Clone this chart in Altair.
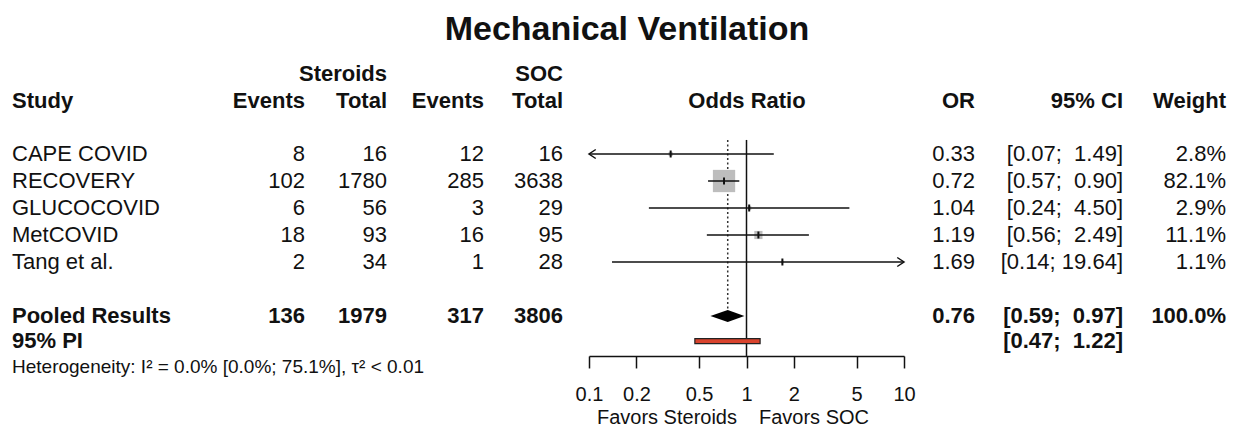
import altair as alt
import pandas as pd

FONT = "Liberation Sans"

# ---------------- data ----------------
studies = ["CAPE COVID", "RECOVERY", "GLUCOCOVID", "MetCOVID", "Tang et al."]
ster_events = [8, 102, 6, 18, 2]
ster_total = [16, 1780, 56, 93, 34]
soc_events = [12, 285, 3, 16, 1]
soc_total = [16, 3638, 29, 95, 28]
odds = [0.33, 0.72, 1.04, 1.19, 1.69]
ci_lo = [0.07, 0.57, 0.24, 0.56, 0.14]
ci_hi = [1.49, 0.90, 4.50, 2.49, 19.64]
weights = [2.8, 82.1, 2.9, 11.1, 1.1]

pooled_counts = [136, 1979, 317, 3806]
pooled_or = 0.76
pooled_lo = 0.59
pooled_hi = 0.97
pooled_weight = 100.0
pi_lo = 0.47
pi_hi = 1.22

ticks = [0.1, 0.2, 0.5, 1, 2, 5, 10]
x_min, x_max = 0.1, 10
title_text = "Mechanical Ventilation"
het_text = "Heterogeneity: I\u00b2 = 0.0% [0.0%; 75.1%], \u03c4\u00b2 < 0.01"
label_left = "Favors Steroids"
label_right = "Favors SOC"

# ---------------- layout ----------------
W, H = 1220, 421
ROW0 = 146.0   # chart px of first study row
STEP = 27.0
yscale = alt.Scale(domain=[-ROW0 / STEP, (H - ROW0) / STEP], reverse=True, nice=False, zero=False)
xscale = alt.Scale(type="log", domain=[x_min, x_max], range=[581, 896], nice=False)

study_rows = list(range(len(studies)))
R_POOL = 6.0
R_PI = 6.93
R_HET = 7.9
R_HEAD1 = -2.95
R_HEAD2 = -1.95
R_TITLE = -4.6
R_AXIS = 7.48
R_FAV = 9.78
R_TOP = -0.52
AXIS_Y = ROW0 + STEP * R_AXIS
FS = 22


def fmt_ci(lo, hi):
    hs = f"{hi:.2f}"
    pad = "\u00a0" * (1 + max(0, 5 - len(hs)))
    return f"[{lo:.2f};{pad}{hs}]"


def column(labels, rows, px, align="right", bold=False, size=FS):
    df = pd.DataFrame({"row": rows, "label": [str(v) for v in labels]})
    return alt.Chart(df).mark_text(
        align=align, baseline="middle", font=FONT, fontSize=size,
        fontWeight="bold" if bold else "normal", color="#111111"
    ).encode(
        x=alt.value(px - 8),
        y=alt.Y("row:Q", scale=yscale, axis=None),
        text="label:N",
    )


layers = []

# forest: reference lines
ref_df = pd.DataFrame({"v": [1.0], "y1": [R_TOP], "y2": [R_AXIS]})
dot_df = pd.DataFrame({"v": [pooled_or], "y1": [R_TOP], "y2": [R_POOL - 0.22]})

axis = alt.Axis(
    values=ticks, format="~g", orient="bottom", offset=AXIS_Y - H, grid=False,
    tickSize=12, tickWidth=1.5, tickColor="#111111", domainColor="#111111",
    domainWidth=1.5, labelFont=FONT, labelFontSize=20, labelColor="#111111",
    labelPadding=17, labelFlush=False, labelOverlap=False, title=None,
)

layers.append(
    alt.Chart(ref_df).mark_rule(color="#111111", strokeWidth=1.5).encode(
        x=alt.X("v:Q", scale=xscale, axis=axis),
        y=alt.Y("y1:Q", scale=yscale, axis=None), y2="y2:Q",
    )
)
layers.append(
    alt.Chart(dot_df).mark_rule(color="#333333", strokeWidth=1.5, strokeDash=[2, 2.5]).encode(
        x=alt.X("v:Q", scale=xscale), y=alt.Y("y1:Q", scale=yscale, axis=None), y2="y2:Q",
    )
)

# study estimates
st = pd.DataFrame({
    "row": study_rows, "or": odds, "lo": ci_lo, "hi": ci_hi, "w": weights,
})
st["lo_c"] = st["lo"].clip(lower=x_min)
st["hi_c"] = st["hi"].clip(upper=x_max)

layers.append(
    alt.Chart(st).mark_square(color="#bdbdbd", opacity=1).encode(
        x=alt.X("or:Q", scale=xscale), y=alt.Y("row:Q", scale=yscale, axis=None),
        size=alt.Size("w:Q", scale=alt.Scale(domain=[0, 100], range=[0, 605]), legend=None),
    )
)
layers.append(
    alt.Chart(st).mark_rule(color="#111111", strokeWidth=1.5).encode(
        x=alt.X("lo_c:Q", scale=xscale), x2="hi_c:Q", y=alt.Y("row:Q", scale=yscale, axis=None),
    )
)
layers.append(
    alt.Chart(st).mark_point(shape="M0,-1L0,1", size=49, strokeWidth=2, color="#111111", filled=False, opacity=1).encode(
        x=alt.X("or:Q", scale=xscale), y=alt.Y("row:Q", scale=yscale, axis=None),
    )
)
left_arrows = st[st["lo"] < x_min]
right_arrows = st[st["hi"] > x_max]
layers.append(
    alt.Chart(left_arrows).mark_point(shape="M1.5,-1L0,0L1.5,1", size=81, strokeWidth=1.5, color="#111111", filled=False, opacity=1).encode(
        x=alt.X("lo_c:Q", scale=xscale), y=alt.Y("row:Q", scale=yscale, axis=None),
    )
)
layers.append(
    alt.Chart(right_arrows).mark_point(shape="M-1.5,-1L0,0L-1.5,1", size=81, strokeWidth=1.5, color="#111111", filled=False, opacity=1).encode(
        x=alt.X("hi_c:Q", scale=xscale), y=alt.Y("row:Q", scale=yscale, axis=None),
    )
)

# pooled diamond
half = 0.22
dia = pd.DataFrame({
    "x": [pooled_lo, pooled_or, pooled_hi],
    "y1": [R_POOL, R_POOL - half, R_POOL],
    "y2": [R_POOL, R_POOL + half, R_POOL],
})
layers.append(
    alt.Chart(dia).mark_area(color="#000000", orient="vertical", opacity=1).encode(
        x=alt.X("x:Q", scale=xscale), y=alt.Y("y1:Q", scale=yscale, axis=None), y2="y2:Q",
    )
)

# prediction interval bar
pi_df = pd.DataFrame({"lo": [pi_lo], "hi": [pi_hi], "y1": [R_PI - 0.09], "y2": [R_PI + 0.09]})
layers.append(
    alt.Chart(pi_df).mark_rect(color="#d9432d", stroke="#222222", strokeWidth=1.2).encode(
        x=alt.X("lo:Q", scale=xscale), x2="hi:Q", y=alt.Y("y1:Q", scale=yscale, axis=None), y2="y2:Q",
    )
)

# ---------------- text columns ----------------
CI_X = 1123
# title
layers.append(column([title_text], [R_TITLE], 627, align="center", bold=True, size=34))
# headers
layers.append(column(["Steroids", "Total"], [R_HEAD1, R_HEAD2], 387, bold=True))
layers.append(column(["SOC", "Total"], [R_HEAD1, R_HEAD2], 563, bold=True))
layers.append(column(["Study"], [R_HEAD2], 12, align="left", bold=True))
layers.append(column(["Events"], [R_HEAD2], 305, bold=True))
layers.append(column(["Events"], [R_HEAD2], 484, bold=True))
layers.append(column(["Odds Ratio"], [R_HEAD2], 747, align="center", bold=True))
layers.append(column(["OR"], [R_HEAD2], 975, bold=True))
layers.append(column(["95% CI"], [R_HEAD2], CI_X, bold=True))
layers.append(column(["Weight"], [R_HEAD2], 1226, bold=True))

# study rows
layers.append(column(studies, study_rows, 12, align="left"))
layers.append(column(ster_events, study_rows, 305))
layers.append(column(ster_total, study_rows, 387))
layers.append(column(soc_events, study_rows, 484))
layers.append(column(soc_total, study_rows, 563))
layers.append(column([f"{v:.2f}" for v in odds], study_rows, 975))
layers.append(column([fmt_ci(a, b) for a, b in zip(ci_lo, ci_hi)], study_rows, CI_X))
layers.append(column([f"{v:.1f}%" for v in weights], study_rows, 1226))

# pooled row
layers.append(column(["Pooled Results", "95% PI"], [R_POOL, R_PI], 12, align="left", bold=True))
for val, px in zip(pooled_counts, [305, 387, 484, 563]):
    layers.append(column([val], [R_POOL], px, bold=True))
layers.append(column([f"{pooled_or:.2f}"], [R_POOL], 975, bold=True))
layers.append(column([fmt_ci(pooled_lo, pooled_hi), fmt_ci(pi_lo, pi_hi)], [R_POOL, R_PI], CI_X, bold=True))
layers.append(column([f"{pooled_weight:.1f}%"], [R_POOL], 1226, bold=True))

# heterogeneity
layers.append(column([het_text], [R_HET], 12, align="left", size=19))

# favours labels
layers.append(column([label_left], [R_FAV], 737, align="right", size=20))
layers.append(column([label_right], [R_FAV], 759, align="left", size=20))

chart = alt.layer(*layers).properties(
    width=W, height=H, padding=0,
    autosize=alt.AutoSizeParams(type="none"),
    background="#ffffff",
).configure_view(stroke=None).resolve_scale(x="shared", y="shared")

chart.save("out.html", embed_options={"renderer": "svg", "actions": False})
